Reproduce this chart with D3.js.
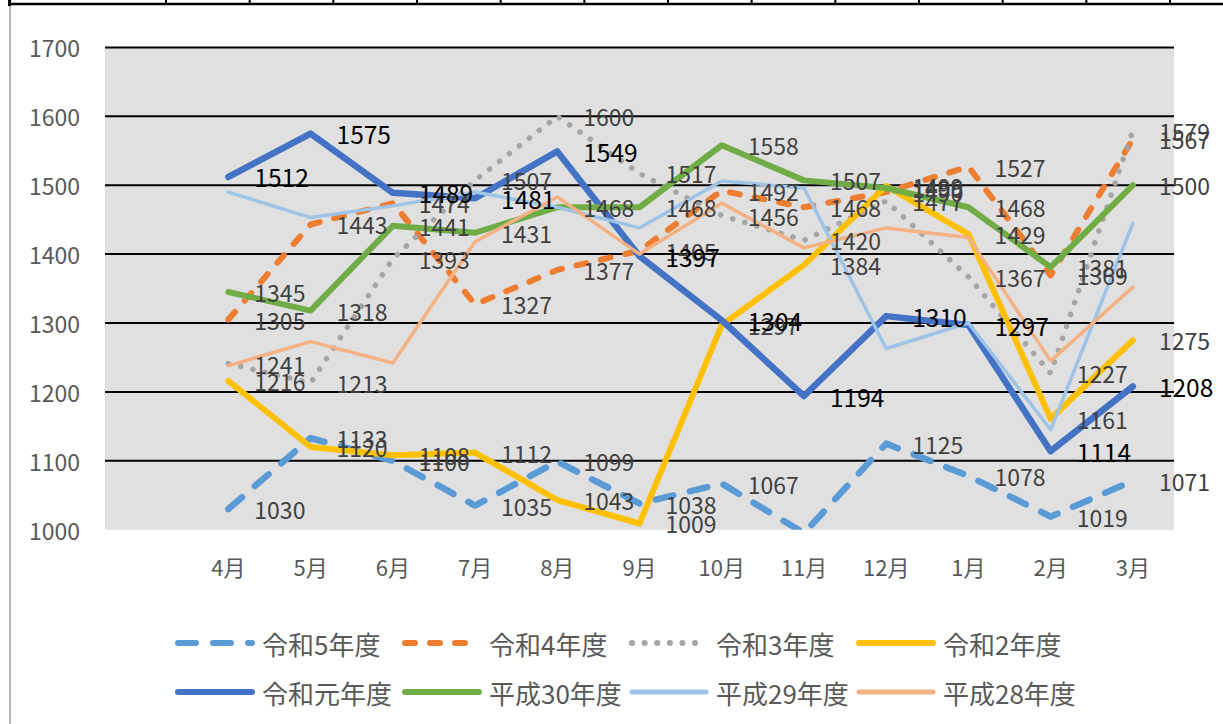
<!DOCTYPE html>
<html><head><meta charset="utf-8">
<script src="https://cdn.jsdelivr.net/npm/d3@7"></script>
<style>body{margin:0;background:#fff;} svg{display:block;}</style>
</head><body>
<svg id="chart" width="1223" height="724"></svg>
<script>
// ---- data ----
const months = ["4月","5月","6月","7月","8月","9月","10月","11月","12月","1月","2月","3月"];
const categories = ["", ...months]; // leading empty category as in the original
const seriesNames = ["令和5年度","令和4年度","令和3年度","令和2年度","令和元年度","平成30年度","平成29年度","平成28年度"];
const reiwa5  = [1030,1133,1100,1035,1099,1038,1067,995,1125,1078,1019,1071];
const reiwa4  = [1305,1443,1474,1327,1377,1405,1492,1468,1490,1527,1369,1567];
const reiwa3  = [1241,1213,1393,1507,1600,1517,1456,1420,1477,1367,1227,1579];
const reiwa2  = [1216,1120,1108,1112,1043,1009,1297,1384,1499,1429,1161,1275];
const reiwa1  = [1512,1575,1489,1481,1549,1397,1304,1194,1310,1297,1114,1208];
const heisei30 = [1345,1318,1441,1431,1468,1468,1558,1507,1496,1468,1381,1500];
const heisei29 = [1490,1453,1470,1490,1468,1438,1506,1496,1263,1300,1145,1445];
const heisei28 = [1238,1273,1242,1418,1483,1400,1474,1409,1438,1424,1245,1352];
const seriesValues = [reiwa5, reiwa4, reiwa3, reiwa2, reiwa1, heisei30, heisei29, heisei28];
const labelledSeries = ["令和5年度","令和4年度","令和3年度","令和2年度","令和元年度","平成30年度"];
const yTicks = [1000,1100,1200,1300,1400,1500,1600,1700];

// ---- styles ----
const styles = {
  "令和5年度":  {color:"#5B9BD5", width:6.5, dash:"18,17", label:"#404040", fs:23},
  "令和4年度":  {color:"#ED7D31", width:6,   dash:"10,15", label:"#404040", fs:23},
  "令和3年度":  {color:"#A5A5A5", width:5.5, dash:"0.1,12.5", label:"#404040", fs:23},
  "令和2年度":  {color:"#FFC000", width:6,   dash:null, label:"#404040", fs:23},
  "令和元年度": {color:"#4472C4", width:6.5, dash:null, label:"#000000", fs:24.5},
  "平成30年度": {color:"#70AD47", width:6,   dash:null, label:"#404040", fs:23},
  "平成29年度": {color:"#9DC3E6", width:3.5, dash:null},
  "平成28年度": {color:"#F4B183", width:3.5, dash:null}
};
const FONT = "'Noto Sans CJK JP','Noto Sans',sans-serif";

const svg = d3.select("#chart");
const plot = {left:105, right:1174, top:47.4, bottom:529.7};

const x = d3.scaleBand().domain(categories).range([plot.left, plot.right]).padding(0);
const xc = d => x(d) + x.bandwidth()/2;
const y = d3.scaleLinear().domain([1000,1700]).range([plot.bottom, plot.top]);

// decorative frame (spreadsheet border above the chart)
const topTicks = d3.scaleLinear().domain([0,12]).range([166,1170]);
svg.append("line").attr("x1",10).attr("x2",10).attr("y1",0).attr("y2",724)
  .attr("stroke","#8a8a8a").attr("stroke-width",1.3);
svg.append("line").attr("x1",8).attr("x2",1223).attr("y1",4).attr("y2",4)
  .attr("stroke","#000").attr("stroke-width",2.5);
svg.selectAll(".ttick").data(d3.range(13)).join("line")
  .attr("x1",d=>topTicks(d)).attr("x2",d=>topTicks(d)).attr("y1",0).attr("y2",5)
  .attr("stroke","#000").attr("stroke-width",2);
svg.append("line").attr("x1",9.5).attr("x2",9.5).attr("y1",0).attr("y2",6)
  .attr("stroke","#000").attr("stroke-width",3);

// plot background
svg.append("rect").attr("x",plot.left).attr("y",plot.top)
  .attr("width",plot.right-plot.left).attr("height",plot.bottom-plot.top).attr("fill","#E0E0E0");

// gridlines (not at the minimum)
svg.append("g").selectAll("line").data(yTicks.filter(t=>t>1000)).join("line")
  .attr("x1",plot.left).attr("x2",plot.right)
  .attr("y1",d=>y(d)).attr("y2",d=>y(d))
  .attr("stroke","#000").attr("stroke-width",2);

// y axis labels
svg.append("g").selectAll("text").data(yTicks).join("text")
  .attr("x",80).attr("y",d=>y(d)).attr("text-anchor","end").attr("dominant-baseline","central")
  .attr("font-family",FONT).attr("font-size",23).attr("fill","#595959").text(d=>d);

// x axis labels
svg.append("g").selectAll("text").data(months).join("text")
  .attr("x",d=>xc(d)).attr("y",566).attr("text-anchor","middle").attr("dominant-baseline","central")
  .attr("font-family",FONT).attr("font-size",22).attr("fill","#595959").text(d=>d);

// clip
svg.append("clipPath").attr("id","clip").append("rect")
  .attr("x",plot.left).attr("y",plot.top-10).attr("width",plot.right-plot.left).attr("height",plot.bottom-plot.top+10);

const line = d3.line().x(d=>xc(d.m)).y(d=>y(d.v));
const seriesData = seriesNames.map((n,i)=>({name:n, pts: months.map((m,j)=>({m, v:seriesValues[i][j]}))}));

const gLines = svg.append("g").attr("clip-path","url(#clip)");
seriesData.forEach(s=>{
  const st = styles[s.name];
  gLines.append("path").datum(s.pts).attr("d",line).attr("fill","none")
    .attr("stroke",st.color).attr("stroke-width",st.width)
    .attr("stroke-linejoin","round").attr("stroke-linecap","round")
    .attr("stroke-dasharray",st.dash);
});

// data labels
const gLab = svg.append("g");
seriesData.filter(s=>labelledSeries.includes(s.name)).forEach(s=>{
  const st = styles[s.name];
  gLab.append("g").selectAll("text").data(s.pts.filter(p=>p.v>=1000 && p.v<=1700)).join("text")
    .attr("x",d=>xc(d.m)+26).attr("y",d=>y(d.v)).attr("dominant-baseline","central")
    .attr("font-family",FONT).attr("font-size",st.fs).attr("fill",st.label).text(d=>d.v);
});

// legend
const legX = d3.scaleLinear().domain([0,3]).range([175,856]);
const legY = d3.scaleLinear().domain([0,1]).range([643,692]);
const gLeg = svg.append("g");
seriesNames.forEach((n,i)=>{
  const st = styles[n];
  const cx = legX(i%4), cy = legY(Math.floor(i/4));
  gLeg.append("line").attr("x1",cx+3).attr("x2",cx+77).attr("y1",cy).attr("y2",cy)
    .attr("stroke",st.color).attr("stroke-width",st.width>4?6:5)
    .attr("stroke-linecap","round").attr("stroke-dasharray",st.dash);
  gLeg.append("text").attr("x",cx+87).attr("y",cy).attr("dominant-baseline","central")
    .attr("font-family",FONT).attr("font-size",26).attr("fill","#595959").text(n);
});
</script>
</body></html>
